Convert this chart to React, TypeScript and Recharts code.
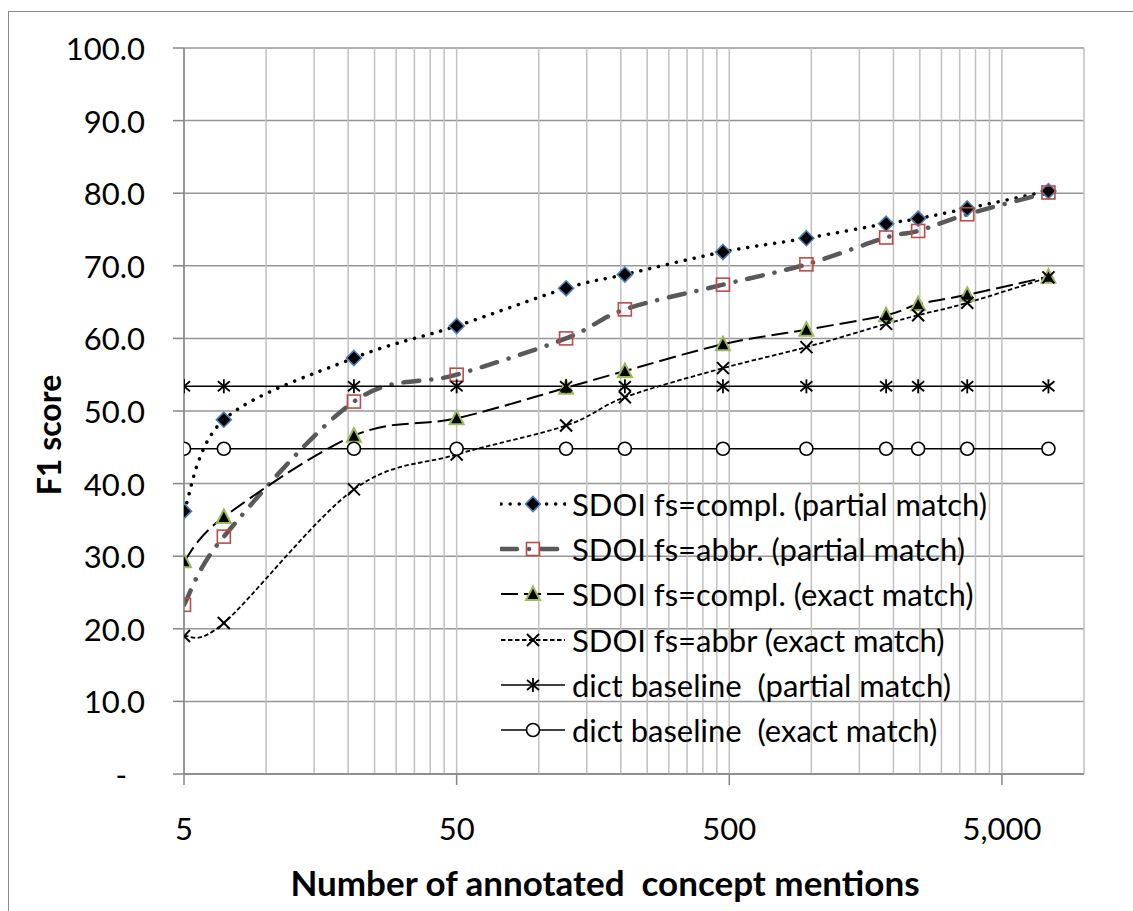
import React from 'react';
import { LineChart, Line, XAxis, YAxis, CartesianGrid, Legend } from 'recharts';

// number of annotated concept mentions (log axis)
const mentions = [5, 7, 21, 50, 126, 207, 474, 959, 1880, 2464, 3730, 7405];

// F1 scores per series
const complPartial = [36.2, 48.8, 57.3, 61.7, 66.9, 68.8, 71.9, 73.8, 75.8, 76.5, 77.9, 80.3];
const abbrPartial = [23.3, 32.7, 51.3, 55.0, 60.0, 64.0, 67.4, 70.2, 73.9, 74.8, 77.1, 80.1];
const complExact = [29.3, 35.4, 46.6, 49.0, 53.2, 55.5, 59.2, 61.2, 63.2, 64.7, 66.0, 68.5];
const abbrExact = [19.0, 20.8, 39.2, 44.0, 48.0, 51.9, 55.9, 58.8, 62.0, 63.2, 64.9, 68.4];
const dictPartial = [53.4, 53.4, 53.4, 53.4, 53.4, 53.4, 53.4, 53.4, 53.4, 53.4, 53.4, 53.4];
const dictExact = [44.8, 44.8, 44.8, 44.8, 44.8, 44.8, 44.8, 44.8, 44.8, 44.8, 44.8, 44.8];

// gridlines at every multiple of 5 per decade, labels on the majors
const gridTicks = [
  5, 10, 15, 20, 25, 30, 35, 40, 45, 50,
  100, 150, 200, 250, 300, 350, 400, 450, 500,
  1000, 1500, 2000, 2500, 3000, 3500, 4000, 4500, 5000, 10000
];
const labelTicks = [5, 50, 500, 5000];
const scoreTicks = [0, 10, 20, 30, 40, 50, 60, 70, 80, 90, 100];

const FONT = 'Lato, "Open Sans", sans-serif';

const data = mentions.map((m, i) => ({
  m,
  complPartial: complPartial[i],
  abbrPartial: abbrPartial[i],
  complExact: complExact[i],
  abbrExact: abbrExact[i],
  dictPartial: dictPartial[i],
  dictExact: dictExact[i]
}));

// Excel-style smoothed line (Catmull-Rom as cubic bezier)
const excelSmooth: any = (context: any) => {
  let xs: number[] = [];
  let ys: number[] = [];
  return {
    areaStart() {},
    areaEnd() {},
    lineStart() { xs = []; ys = []; },
    point(x: number, y: number) { xs.push(+x); ys.push(+y); },
    lineEnd() {
      const n = xs.length;
      if (!n) return;
      context.moveTo(xs[0], ys[0]);
      for (let i = 0; i < n - 1; i++) {
        const a = Math.max(i - 1, 0);
        const d = Math.min(i + 2, n - 1);
        context.bezierCurveTo(
          xs[i] + (xs[i + 1] - xs[a]) / 6, ys[i] + (ys[i + 1] - ys[a]) / 6,
          xs[i + 1] - (xs[d] - xs[i]) / 6, ys[i + 1] - (ys[d] - ys[i]) / 6,
          xs[i + 1], ys[i + 1]
        );
      }
    }
  };
};

type Shape = 'diamond' | 'square' | 'triangle' | 'cross' | 'star' | 'circle';

const SERIES: Array<{
  key: string; name: string; stroke: string; width: number; dash?: string;
  cap: 'round' | 'butt'; shape: Shape; smooth: boolean;
}> = [
  { key: 'complPartial', name: 'SDOI fs=compl. (partial match)', stroke: '#000', width: 3.5, dash: '0.1 9', cap: 'round', shape: 'diamond', smooth: true },
  { key: 'abbrPartial', name: 'SDOI fs=abbr. (partial match)', stroke: '#595959', width: 4.5, dash: '16 12 0.1 12', cap: 'round', shape: 'square', smooth: true },
  { key: 'complExact', name: 'SDOI fs=compl. (exact match)', stroke: '#000', width: 2, dash: '17 6', cap: 'butt', shape: 'triangle', smooth: true },
  { key: 'abbrExact', name: 'SDOI fs=abbr (exact match)', stroke: '#000', width: 1.8, dash: '4.5 2.5', cap: 'butt', shape: 'cross', smooth: true },
  { key: 'dictPartial', name: 'dict baseline  (partial match)', stroke: '#000', width: 1.6, cap: 'butt', shape: 'star', smooth: false },
  { key: 'dictExact', name: 'dict baseline  (exact match)', stroke: '#000', width: 1.6, cap: 'butt', shape: 'circle', smooth: false }
];

function Marker({ shape, cx, cy }: { shape: Shape; cx: number; cy: number }) {
  switch (shape) {
    case 'diamond':
      return <polygon points={`${cx},${cy - 7.5} ${cx + 7.5},${cy} ${cx},${cy + 7.5} ${cx - 7.5},${cy}`} fill="#000" stroke="#4A7EBB" strokeWidth={1.6} />;
    case 'square':
      return <rect x={cx - 6.5} y={cy - 6.5} width={13} height={13} fill="none" stroke="#BE4B48" strokeWidth={1.6} />;
    case 'triangle':
      return <polygon points={`${cx},${cy - 7.5} ${cx + 7},${cy + 6} ${cx - 7},${cy + 6}`} fill="#000" stroke="#9BBB59" strokeWidth={2} />;
    case 'cross':
      return (
        <g stroke="#000" strokeWidth={2}>
          <line x1={cx - 6} y1={cy - 6} x2={cx + 6} y2={cy + 6} />
          <line x1={cx - 6} y1={cy + 6} x2={cx + 6} y2={cy - 6} />
        </g>
      );
    case 'star':
      return (
        <g stroke="#000" strokeWidth={1.8}>
          <line x1={cx - 6} y1={cy - 5} x2={cx + 6} y2={cy + 5} />
          <line x1={cx - 6} y1={cy + 5} x2={cx + 6} y2={cy - 5} />
          <line x1={cx} y1={cy - 7} x2={cx} y2={cy + 7} />
        </g>
      );
    default:
      return <circle cx={cx} cy={cy} r={6.5} fill="#fff" stroke="#000" strokeWidth={1.6} />;
  }
}

const YTick = (p: any) => {
  const v = p.payload.value;
  return (
    <text x={v === 0 ? p.x - 18 : p.x} y={p.y} textAnchor="end" dominantBaseline="central"
      fontFamily={FONT} fontSize={31} fill="#000">
      {v === 0 ? '-' : v.toFixed(1)}
    </text>
  );
};

const XTick = (p: any) => {
  const v = p.payload.value;
  if (!labelTicks.includes(v)) return <g />;
  return (
    <g>
      <line x1={p.x} y1={p.y} x2={p.x} y2={p.y + 11} stroke="#868686" strokeWidth={1.5} />
      <text x={p.x} y={p.y + 66} textAnchor="middle" fontFamily={FONT} fontSize={31} fill="#000">
        {v.toLocaleString('en-US')}
      </text>
    </g>
  );
};

const renderLegend = () => (
  <div style={{ fontFamily: FONT, fontSize: 31, color: '#000' }}>
    {SERIES.map((s) => (
      <div key={s.key} style={{ display: 'flex', alignItems: 'center', height: 45.3 }}>
        <svg width={66} height={20} style={{ marginRight: 6, flex: 'none' }}>
          <line x1={1} y1={10} x2={65} y2={10} stroke={s.stroke} strokeWidth={s.width}
            strokeDasharray={s.dash} strokeLinecap={s.cap} />
          <Marker shape={s.shape} cx={33} cy={10} />
        </svg>
        <span style={{ whiteSpace: 'pre' }}>{s.name}</span>
      </div>
    ))}
  </div>
);

export default function App() {
  return (
    <div style={{ position: 'absolute', left: 0, top: 0, width: 1133, height: 911, overflow: 'hidden', background: '#fff' }}>
      <div style={{ position: 'absolute', left: 8, top: 11, width: 1200, height: 1000, border: '1px solid #8a8a8a' }} />
      <LineChart width={1133} height={911} data={data}
        margin={{ top: 48, right: 49, bottom: 77, left: 84 }}>
        <CartesianGrid vertical={false} stroke="#969696" strokeWidth={1.5} />
        <CartesianGrid horizontal={false} stroke="#c0c0c0" strokeWidth={1.5} />
        <XAxis dataKey="m" type="number" scale="log" domain={[5, 10000]} ticks={gridTicks}
          allowDataOverflow interval={0} height={60} tickSize={0} tickMargin={0} tickLine={false}
          axisLine={{ stroke: '#868686', strokeWidth: 1.5 }} tick={<XTick />} />
        <YAxis type="number" domain={[0, 100]} ticks={scoreTicks} width={100} interval={0}
          tickSize={11} tickMargin={28} tickLine={{ stroke: '#868686', strokeWidth: 1.5 }}
          axisLine={{ stroke: '#868686', strokeWidth: 1.5 }} tick={<YTick />} />
        {SERIES.map((s) => (
          <Line key={s.key} dataKey={s.key} name={s.name} type={s.smooth ? excelSmooth : 'linear'}
            stroke={s.stroke} strokeWidth={s.width} strokeDasharray={s.dash} strokeLinecap={s.cap}
            isAnimationActive={false}
            dot={(p: any) => <Marker key={`${s.key}-${p.index}`} shape={s.shape} cx={p.cx} cy={p.cy} />}
            activeDot={false} />
        ))}
        <Legend layout="horizontal" verticalAlign="middle" content={renderLegend}
          wrapperStyle={{ left: 500, top: 481, width: 600 }} />
      </LineChart>
      <div style={{ position: 'absolute', left: 48, top: 435, transform: 'translate(-50%, -50%) rotate(-90deg)',
        fontFamily: FONT, fontWeight: 'bold', fontSize: 32, whiteSpace: 'pre' }}>F1 score</div>
      <div style={{ position: 'absolute', left: 605, top: 882, transform: 'translate(-50%, -50%)',
        fontFamily: FONT, fontWeight: 'bold', fontSize: 35, whiteSpace: 'pre' }}>Number of annotated  concept mentions</div>
    </div>
  );
}
